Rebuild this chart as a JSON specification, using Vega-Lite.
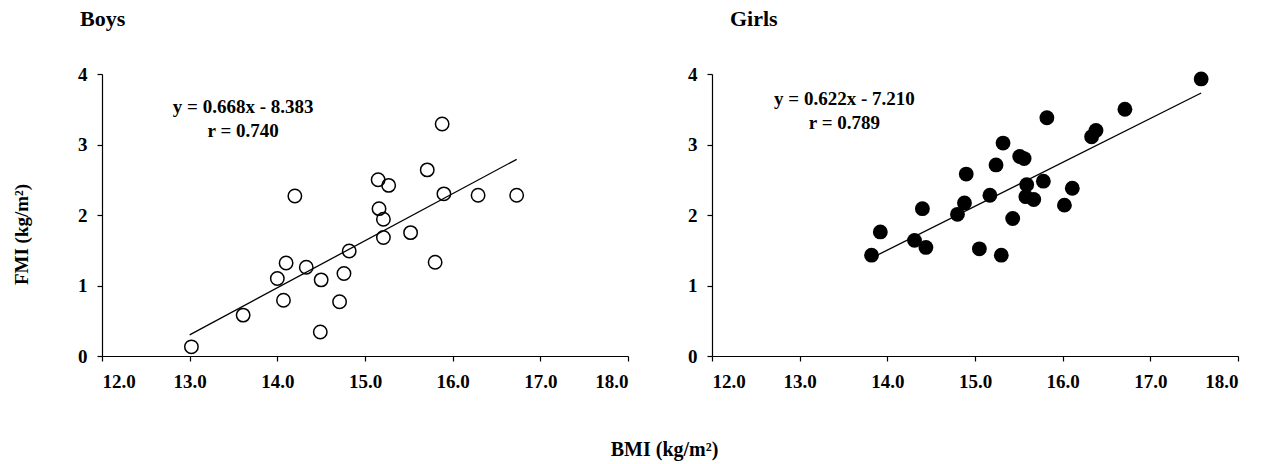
{
  "$schema": "https://vega.github.io/schema/vega-lite/v6.json",
  "padding": {"left": 12, "top": 8, "right": 10, "bottom": 5},
  "background": "white",
  "config": {
    "font": "Liberation Serif",
    "view": {"stroke": null},
    "axis": {"grid": false, "domainColor": "black", "tickColor": "black", "labelColor": "black", "labelFont": "Liberation Serif", "labelFontWeight": "bold", "labelFontSize": 19, "titleFont": "Liberation Serif", "titleFontWeight": "bold", "titleColor": "black", "domainWidth": 1.2, "tickWidth": 1.2, "tickSize": 5},
    "title": {"font": "Liberation Serif", "fontWeight": "bold", "color": "black"}
  },
  "title": {"text": "BMI (kg/m²)", "orient": "bottom", "fontSize": 20, "offset": 49, "anchor": "middle", "dx": 39},
  "datasets": {
    "boys": [
      {"bmi": 13.02, "fmi": 0.13}, {"bmi": 13.61, "fmi": 0.58}, {"bmi": 14.00, "fmi": 1.10}, {"bmi": 14.07, "fmi": 0.79},
      {"bmi": 14.10, "fmi": 1.32}, {"bmi": 14.20, "fmi": 2.27}, {"bmi": 14.33, "fmi": 1.26}, {"bmi": 14.50, "fmi": 1.08},
      {"bmi": 14.49, "fmi": 0.34}, {"bmi": 14.71, "fmi": 0.77}, {"bmi": 14.76, "fmi": 1.17}, {"bmi": 14.82, "fmi": 1.49},
      {"bmi": 15.15, "fmi": 2.50}, {"bmi": 15.16, "fmi": 2.09}, {"bmi": 15.21, "fmi": 1.94}, {"bmi": 15.21, "fmi": 1.68},
      {"bmi": 15.27, "fmi": 2.42}, {"bmi": 15.52, "fmi": 1.75}, {"bmi": 15.71, "fmi": 2.64}, {"bmi": 15.80, "fmi": 1.33},
      {"bmi": 15.88, "fmi": 3.29}, {"bmi": 15.90, "fmi": 2.30}, {"bmi": 16.29, "fmi": 2.28}, {"bmi": 16.73, "fmi": 2.28}
    ],
    "boysLine": [{"bmi": 13.0, "fmi": 0.30}, {"bmi": 16.73, "fmi": 2.79}],
    "girls": [
      {"bmi": 13.82, "fmi": 1.43}, {"bmi": 13.92, "fmi": 1.76}, {"bmi": 14.31, "fmi": 1.64}, {"bmi": 14.44, "fmi": 1.54},
      {"bmi": 14.40, "fmi": 2.09}, {"bmi": 14.80, "fmi": 2.01}, {"bmi": 14.88, "fmi": 2.17}, {"bmi": 14.90, "fmi": 2.58},
      {"bmi": 15.05, "fmi": 1.52}, {"bmi": 15.17, "fmi": 2.28}, {"bmi": 15.24, "fmi": 2.71}, {"bmi": 15.32, "fmi": 3.02},
      {"bmi": 15.30, "fmi": 1.43}, {"bmi": 15.43, "fmi": 1.95}, {"bmi": 15.51, "fmi": 2.83}, {"bmi": 15.56, "fmi": 2.80},
      {"bmi": 15.59, "fmi": 2.43}, {"bmi": 15.58, "fmi": 2.26}, {"bmi": 15.67, "fmi": 2.22}, {"bmi": 15.78, "fmi": 2.48},
      {"bmi": 15.82, "fmi": 3.38}, {"bmi": 16.02, "fmi": 2.14}, {"bmi": 16.11, "fmi": 2.38}, {"bmi": 16.33, "fmi": 3.11},
      {"bmi": 16.38, "fmi": 3.20}, {"bmi": 16.71, "fmi": 3.50}, {"bmi": 17.58, "fmi": 3.93}
    ],
    "girlsLine": [{"bmi": 13.82, "fmi": 1.39}, {"bmi": 17.58, "fmi": 3.73}],
    "boysNote": [{"line1": "y = 0.668x - 8.383", "line2": "r = 0.740"}],
    "girlsNote": [{"line1": "y = 0.622x - 7.210", "line2": "r = 0.789"}]
  },
  "spacing": 58,
  "hconcat": [
    {
      "width": 526, "height": 282,
      "title": {"text": "Boys", "anchor": "start", "frame": "group", "dx": -22, "fontSize": 22, "offset": 34},
      "layer": [
        {
          "data": {"name": "boysLine"},
          "mark": {"type": "line", "color": "black", "strokeWidth": 1.3},
          "encoding": {
            "x": {"field": "bmi", "type": "quantitative", "scale": {"domain": [12, 18], "nice": false, "zero": false}, "axis": {"values": [12, 13, 14, 15, 16, 17, 18], "format": ".1f", "title": null, "labelPadding": 11}},
            "y": {"field": "fmi", "type": "quantitative", "scale": {"domain": [0, 4], "nice": false}, "axis": {"values": [0, 1, 2, 3, 4], "format": "d", "title": "FMI (kg/m²)", "titleFontSize": 19, "titlePadding": 46, "titleY": 160, "labelPadding": 10}}
          }
        },
        {
          "data": {"name": "boys"},
          "mark": {"type": "point", "shape": "circle", "filled": false, "color": "black", "strokeWidth": 1.5, "size": 180, "opacity": 1},
          "encoding": {
            "x": {"field": "bmi", "type": "quantitative"},
            "y": {"field": "fmi", "type": "quantitative"}
          }
        },
        {
          "data": {"name": "boysNote"},
          "mark": {"type": "text", "fontSize": 19, "fontWeight": "bold", "font": "Liberation Serif", "align": "center", "baseline": "middle", "color": "black"},
          "encoding": {"text": {"field": "line1"}, "x": {"datum": 13.61}, "y": {"datum": 3.53}}
        },
        {
          "data": {"name": "boysNote"},
          "mark": {"type": "text", "fontSize": 19, "fontWeight": "bold", "font": "Liberation Serif", "align": "center", "baseline": "middle", "color": "black"},
          "encoding": {"text": {"field": "line2"}, "x": {"datum": 13.61}, "y": {"datum": 3.19}}
        }
      ]
    },
    {
      "width": 526, "height": 282,
      "title": {"text": "Girls", "anchor": "start", "frame": "group", "dx": 18, "fontSize": 22, "offset": 34},
      "layer": [
        {
          "data": {"name": "girlsLine"},
          "mark": {"type": "line", "color": "black", "strokeWidth": 1.3},
          "encoding": {
            "x": {"field": "bmi", "type": "quantitative", "scale": {"domain": [12, 18], "nice": false, "zero": false}, "axis": {"values": [12, 13, 14, 15, 16, 17, 18], "format": ".1f", "title": null, "labelPadding": 11}},
            "y": {"field": "fmi", "type": "quantitative", "scale": {"domain": [0, 4], "nice": false}, "axis": {"values": [0, 1, 2, 3, 4], "format": "d", "title": null, "labelPadding": 10}}
          }
        },
        {
          "data": {"name": "girls"},
          "mark": {"type": "point", "shape": "circle", "filled": true, "color": "black", "size": 220, "opacity": 1},
          "encoding": {
            "x": {"field": "bmi", "type": "quantitative"},
            "y": {"field": "fmi", "type": "quantitative"}
          }
        },
        {
          "data": {"name": "girlsNote"},
          "mark": {"type": "text", "fontSize": 19, "fontWeight": "bold", "font": "Liberation Serif", "align": "center", "baseline": "middle", "color": "black"},
          "encoding": {"text": {"field": "line1"}, "x": {"datum": 13.51}, "y": {"datum": 3.65}}
        },
        {
          "data": {"name": "girlsNote"},
          "mark": {"type": "text", "fontSize": 19, "fontWeight": "bold", "font": "Liberation Serif", "align": "center", "baseline": "middle", "color": "black"},
          "encoding": {"text": {"field": "line2"}, "x": {"datum": 13.51}, "y": {"datum": 3.31}}
        }
      ]
    }
  ]
}
